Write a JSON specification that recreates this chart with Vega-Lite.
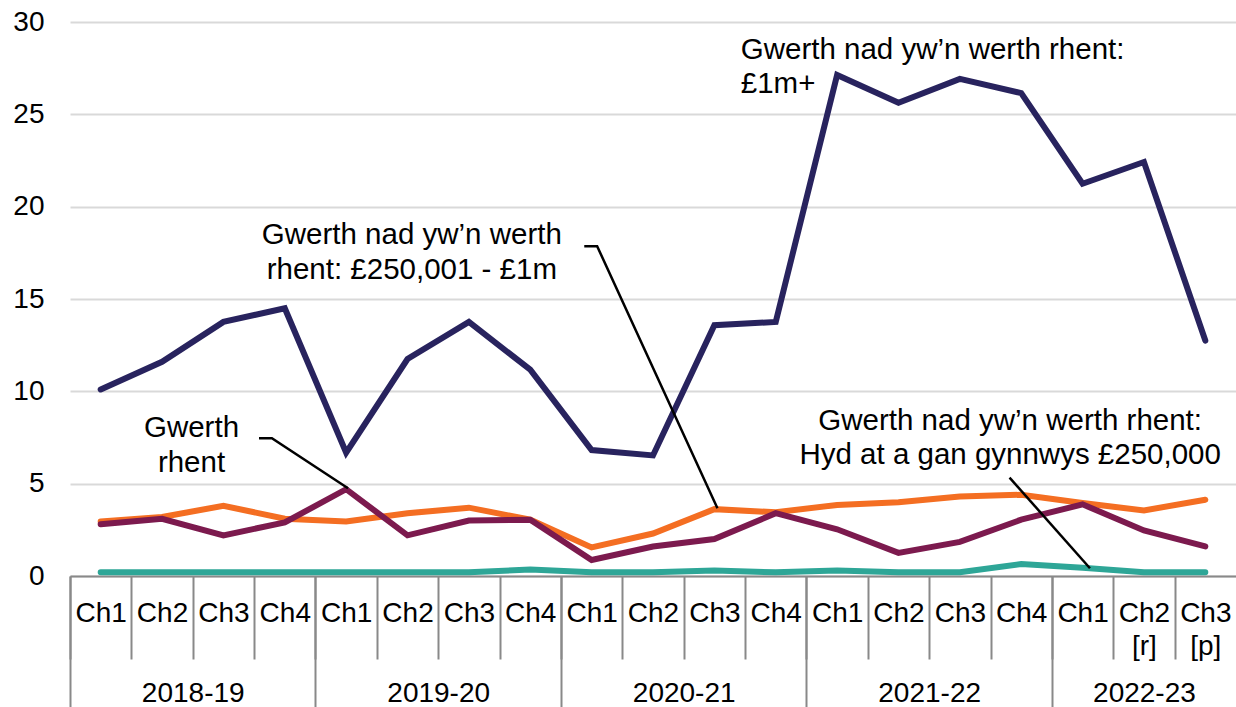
{
  "$schema": "https://vega.github.io/schema/vega-lite/v6.json",
  "width": 1166,
  "height": 554,
  "autosize": {"type": "none"},
  "padding": {"left": 70, "top": 22, "right": 0, "bottom": 131},
  "background": "white",
  "config": {"font": "Liberation Sans", "view": {"stroke": null}},
  "datasets": {
    "series": [
      {"series": "D", "period": "2018-19 Ch1", "value": 0.2},
      {"series": "D", "period": "2018-19 Ch2", "value": 0.2},
      {"series": "D", "period": "2018-19 Ch3", "value": 0.2},
      {"series": "D", "period": "2018-19 Ch4", "value": 0.2},
      {"series": "D", "period": "2019-20 Ch1", "value": 0.2},
      {"series": "D", "period": "2019-20 Ch2", "value": 0.2},
      {"series": "D", "period": "2019-20 Ch3", "value": 0.2},
      {"series": "D", "period": "2019-20 Ch4", "value": 0.35},
      {"series": "D", "period": "2020-21 Ch1", "value": 0.2},
      {"series": "D", "period": "2020-21 Ch2", "value": 0.2},
      {"series": "D", "period": "2020-21 Ch3", "value": 0.3},
      {"series": "D", "period": "2020-21 Ch4", "value": 0.2},
      {"series": "D", "period": "2021-22 Ch1", "value": 0.3},
      {"series": "D", "period": "2021-22 Ch2", "value": 0.2},
      {"series": "D", "period": "2021-22 Ch3", "value": 0.2},
      {"series": "D", "period": "2021-22 Ch4", "value": 0.65},
      {"series": "D", "period": "2022-23 Ch1", "value": 0.45},
      {"series": "D", "period": "2022-23 Ch2 [r]", "value": 0.2},
      {"series": "D", "period": "2022-23 Ch3 [p]", "value": 0.2},
      {"series": "B", "period": "2018-19 Ch1", "value": 2.95},
      {"series": "B", "period": "2018-19 Ch2", "value": 3.2},
      {"series": "B", "period": "2018-19 Ch3", "value": 3.8},
      {"series": "B", "period": "2018-19 Ch4", "value": 3.1},
      {"series": "B", "period": "2019-20 Ch1", "value": 2.95},
      {"series": "B", "period": "2019-20 Ch2", "value": 3.4},
      {"series": "B", "period": "2019-20 Ch3", "value": 3.7},
      {"series": "B", "period": "2019-20 Ch4", "value": 3.05},
      {"series": "B", "period": "2020-21 Ch1", "value": 1.55},
      {"series": "B", "period": "2020-21 Ch2", "value": 2.3},
      {"series": "B", "period": "2020-21 Ch3", "value": 3.62},
      {"series": "B", "period": "2020-21 Ch4", "value": 3.45},
      {"series": "B", "period": "2021-22 Ch1", "value": 3.85},
      {"series": "B", "period": "2021-22 Ch2", "value": 4.0},
      {"series": "B", "period": "2021-22 Ch3", "value": 4.3},
      {"series": "B", "period": "2021-22 Ch4", "value": 4.4},
      {"series": "B", "period": "2022-23 Ch1", "value": 3.95},
      {"series": "B", "period": "2022-23 Ch2 [r]", "value": 3.55},
      {"series": "B", "period": "2022-23 Ch3 [p]", "value": 4.13},
      {"series": "C", "period": "2018-19 Ch1", "value": 2.8},
      {"series": "C", "period": "2018-19 Ch2", "value": 3.1},
      {"series": "C", "period": "2018-19 Ch3", "value": 2.2},
      {"series": "C", "period": "2018-19 Ch4", "value": 2.9},
      {"series": "C", "period": "2019-20 Ch1", "value": 4.7},
      {"series": "C", "period": "2019-20 Ch2", "value": 2.2},
      {"series": "C", "period": "2019-20 Ch3", "value": 3.0},
      {"series": "C", "period": "2019-20 Ch4", "value": 3.05},
      {"series": "C", "period": "2020-21 Ch1", "value": 0.87},
      {"series": "C", "period": "2020-21 Ch2", "value": 1.6},
      {"series": "C", "period": "2020-21 Ch3", "value": 2.0},
      {"series": "C", "period": "2020-21 Ch4", "value": 3.4},
      {"series": "C", "period": "2021-22 Ch1", "value": 2.53},
      {"series": "C", "period": "2021-22 Ch2", "value": 1.25},
      {"series": "C", "period": "2021-22 Ch3", "value": 1.85},
      {"series": "C", "period": "2021-22 Ch4", "value": 3.05},
      {"series": "C", "period": "2022-23 Ch1", "value": 3.88},
      {"series": "C", "period": "2022-23 Ch2 [r]", "value": 2.47},
      {"series": "C", "period": "2022-23 Ch3 [p]", "value": 1.6},
      {"series": "A", "period": "2018-19 Ch1", "value": 10.1},
      {"series": "A", "period": "2018-19 Ch2", "value": 11.6},
      {"series": "A", "period": "2018-19 Ch3", "value": 13.76},
      {"series": "A", "period": "2018-19 Ch4", "value": 14.5},
      {"series": "A", "period": "2019-20 Ch1", "value": 6.68},
      {"series": "A", "period": "2019-20 Ch2", "value": 11.75},
      {"series": "A", "period": "2019-20 Ch3", "value": 13.76},
      {"series": "A", "period": "2019-20 Ch4", "value": 11.17},
      {"series": "A", "period": "2020-21 Ch1", "value": 6.82},
      {"series": "A", "period": "2020-21 Ch2", "value": 6.53},
      {"series": "A", "period": "2020-21 Ch3", "value": 13.58},
      {"series": "A", "period": "2020-21 Ch4", "value": 13.76},
      {"series": "A", "period": "2021-22 Ch1", "value": 27.13},
      {"series": "A", "period": "2021-22 Ch2", "value": 25.63},
      {"series": "A", "period": "2021-22 Ch3", "value": 26.92},
      {"series": "A", "period": "2021-22 Ch4", "value": 26.15},
      {"series": "A", "period": "2022-23 Ch1", "value": 21.24},
      {"series": "A", "period": "2022-23 Ch2 [r]", "value": 22.42},
      {"series": "A", "period": "2022-23 Ch3 [p]", "value": 12.75}
    ],
    "labelsLeft": [
      {"u": 10.93, "v": 28.0, "text": "Gwerth nad yw’n werth rhent:\n£1m+"}
    ],
    "labelsCenter": [
      {"u": 5.57, "v": 17.96, "text": "Gwerth nad yw’n werth\nrhent: £250,001 - £1m"},
      {"u": 1.98, "v": 7.51, "text": "Gwerth\nrhent"},
      {"u": 15.32, "v": 7.92, "text": "Gwerth nad yw’n werth rhent:\nHyd at a gan gynnwys £250,000"}
    ],
    "leaders": [
      {"id": "a", "seq": 1, "u": 8.38, "v": 17.86},
      {"id": "a", "seq": 2, "u": 8.59, "v": 17.86},
      {"id": "a", "seq": 3, "u": 10.55, "v": 3.67},
      {"id": "b", "seq": 1, "u": 3.08, "v": 7.46},
      {"id": "b", "seq": 2, "u": 3.29, "v": 7.46},
      {"id": "b", "seq": 3, "u": 4.53, "v": 4.75},
      {"id": "c", "seq": 1, "u": 15.31, "v": 5.33},
      {"id": "c", "seq": 2, "u": 16.62, "v": 0.42}
    ]
  },
  "resolve": {"scale": {"x": "independent"}, "axis": {"x": "independent"}},
  "layer": [
    {
      "data": {"name": "series"},
      "mark": {"type": "point", "opacity": 0},
      "encoding": {
        "x": {
          "field": "period", "type": "ordinal",
          "scale": {"type": "point", "padding": 0.5},
          "axis": {
            "orient": "bottom", "title": null, "domain": false,
            "ticks": true, "tickSize": 131, "tickColor": "#898989", "tickWidth": 2,
            "tickOffset": -30.684,
            "tickOpacity": {"condition": {"test": "indexof(datum.value,'Ch1')>=0", "value": 1}, "value": 0},
            "labelExpr": "indexof(datum.value,'Ch3')>=0 && indexof(datum.value,'2022-23')<0 ? slice(datum.value,0,7) : (datum.value==='2022-23 Ch2 [r]' ? '2022-23' : '')",
            "labelOffset": {"condition": {"test": "datum.value==='2022-23 Ch2 [r]'", "value": 30.684}, "value": 0},
            "labelPadding": -28,
            "labelFontSize": 28, "labelColor": "#000000", "labelAngle": 0,
            "labelOverlap": false, "labelBaseline": "top"
          }
        },
        "y": {
          "field": "value", "type": "quantitative",
          "scale": {"domain": [0, 30], "nice": false},
          "axis": {
            "title": null, "values": [0, 5, 10, 15, 20, 25, 30],
            "domain": false, "ticks": false,
            "gridColor": "#d9d9d9", "gridWidth": 2,
            "labelFontSize": 28, "labelPadding": 26, "labelColor": "#000000"
          }
        }
      }
    },
    {
      "data": {"name": "series"},
      "mark": {"type": "line", "strokeWidth": 6, "strokeCap": "round"},
      "encoding": {
        "x": {
          "field": "period", "type": "ordinal",
          "scale": {"type": "point", "padding": 0.5},
          "axis": {
            "orient": "bottom", "title": null,
            "domainColor": "#898989", "domainWidth": 2,
            "tickColor": "#898989", "tickWidth": 2, "tickSize": 83,
            "tickOffset": -30.684, "labelOffset": 30.684,
            "labelPadding": -60,
            "labelExpr": "slice(split(datum.value,' '),1)",
            "labelFontSize": 28, "labelLineHeight": 33, "labelColor": "#000000",
            "labelAngle": 0, "labelOverlap": false, "labelBaseline": "top"
          }
        },
        "y": {
          "field": "value", "type": "quantitative",
          "scale": {"domain": [0, 30], "nice": false},
          "axis": {
            "title": null, "values": [0, 5, 10, 15, 20, 25, 30],
            "domain": false, "ticks": false,
            "gridColor": "#d9d9d9", "gridWidth": 2,
            "labelFontSize": 28, "labelPadding": 26, "labelColor": "#000000"
          }
        },
        "color": {
          "field": "series", "type": "nominal",
          "scale": {"domain": ["D", "B", "C", "A"], "range": ["#2ea697", "#f46e22", "#7c1a4e", "#28235e"]},
          "legend": null
        }
      }
    },
    {
      "data": {"name": "leaders"},
      "mark": {"type": "line", "color": "#000000", "strokeWidth": 2.5},
      "encoding": {
        "x": {"field": "u", "type": "quantitative", "scale": {"domain": [0, 19], "nice": false, "zero": false}, "axis": null},
        "y": {"field": "v", "type": "quantitative", "scale": {"domain": [0, 30], "nice": false}},
        "detail": {"field": "id"},
        "order": {"field": "seq"}
      }
    },
    {
      "data": {"name": "labelsLeft"},
      "mark": {"type": "text", "align": "left", "baseline": "alphabetic", "fontSize": 29.5, "lineHeight": 34.5, "lineBreak": "\n", "color": "#000000"},
      "encoding": {
        "x": {"field": "u", "type": "quantitative", "scale": {"domain": [0, 19], "nice": false, "zero": false}, "axis": null},
        "y": {"field": "v", "type": "quantitative", "scale": {"domain": [0, 30], "nice": false}},
        "text": {"field": "text"}
      }
    },
    {
      "data": {"name": "labelsCenter"},
      "mark": {"type": "text", "align": "center", "baseline": "alphabetic", "fontSize": 29.5, "lineHeight": 34.5, "lineBreak": "\n", "color": "#000000"},
      "encoding": {
        "x": {"field": "u", "type": "quantitative", "scale": {"domain": [0, 19], "nice": false, "zero": false}, "axis": null},
        "y": {"field": "v", "type": "quantitative", "scale": {"domain": [0, 30], "nice": false}},
        "text": {"field": "text"}
      }
    }
  ]
}
